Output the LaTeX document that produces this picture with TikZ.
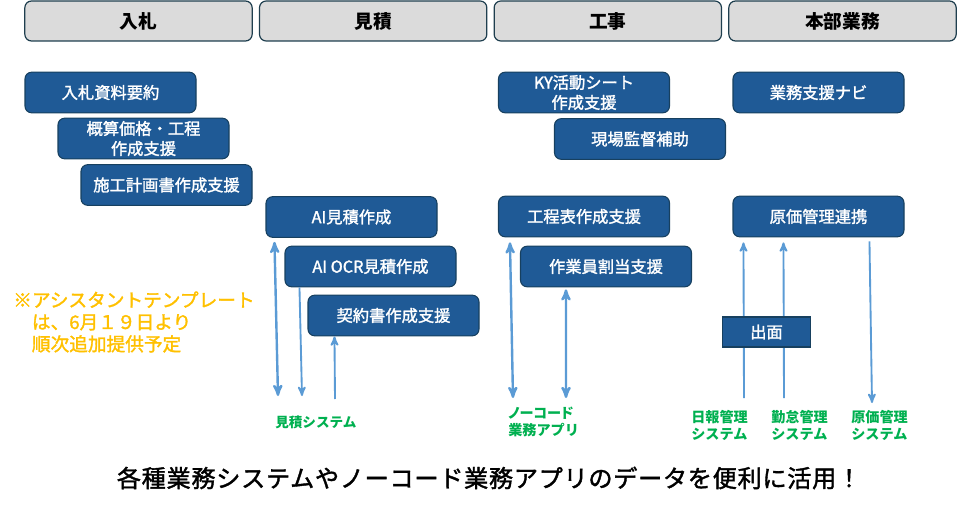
\documentclass[tikz,border=0pt]{standalone}
\usepackage{fontspec}
\setmainfont{Noto Sans CJK JP}
\newfontfamily\medfont[FakeBold=1.6]{Noto Sans CJK JP}
\usetikzlibrary{calc}
\usetikzlibrary{arrows}

\definecolor{headfill}{HTML}{DBDBDB}
\definecolor{headline}{HTML}{1F3F4F}
\definecolor{taskfill}{HTML}{1F5A96}
\definecolor{taskline}{HTML}{17405F}
\definecolor{linkblue}{HTML}{5B9BD5}
\definecolor{notegold}{HTML}{FFC000}
\definecolor{sysgreen}{HTML}{00B050}

\tikzset{
  head/.style={draw=headline, line width=.9pt, fill=headfill, rounded corners=5pt, inner sep=0pt,
    minimum width=170.5pt, minimum height=30pt, font=\fontsize{14}{16}\selectfont\bfseries},
  task/.style={draw=taskline, line width=.8pt, fill=taskfill, text=white, rounded corners=5pt, inner sep=0pt,
    minimum width=128.25pt, minimum height=30.5pt, align=center, font=\fontsize{12.2}{15}\selectfont\medfont},
  sys/.style={text=sysgreen, inner sep=0pt, align=left, anchor=west, font=\fontsize{10.6}{12.8}\selectfont\bfseries},
  link/.style={draw=linkblue, line width=1.8pt},
  thinlink/.style={draw=linkblue, line width=1.4pt}
}

\begin{document}
\begin{tikzpicture}[>=stealth',x=.75pt,y=-.75pt,node distance=176pt]
  \useasboundingbox (0,0) rectangle (957,510);

  % top row
  \node[head] (bid)               at (138.5,21) {入札};
  \node[head] (est)  [right of=bid] {見積};
  \node[head] (work) [right of=est] {工事};
  \node[head] (hq)   [right of=work] {本部業務};

  \node[task] (bidsum)  at (110.5,92.5)  {入札資料要約};
  \node[task] (bidcost) at (143.5,138.5) {概算価格・工程\\作成支援};
  \node[task] (bidplan) at (166.5,185)   {施工計画書作成支援};

  \node[task] (estai)   at (351.5,217)   {AI見積作成};
  \node[task] (estocr)  at (370.5,266.5) {AI OCR見積作成};
  \node[task] (estdoc)  at (393.5,315.5) {契約書作成支援};

  \node[task] (ky)      at (584,92.5)    {KY活動シート\\作成支援};
  \node[task] (site)    at (640,139)     {現場監督補助};
  \node[task] (sched)   at (584,216.5)   {工程表作成支援};
  \node[task] (crew)    at (606,266.5)   {作業員割当支援};

  \node[task] (navi)    at (818.5,92.5)  {業務支援ナビ};
  \node[task] (cost)    at (818.5,216.5) {原価管理連携};

  % free ends of the arrows
  \coordinate (e1) at (278,396);
  \coordinate (e2) at (302,396);
  \coordinate (e3) at (335,399);
  \coordinate (n1) at (513,398);
  \coordinate (n2) at (566,398);
  \coordinate (s1) at (744,398);
  \coordinate (s2) at (784,398);
  \coordinate (s3) at (872,403);

  \draw[link,<->]     ($(estai.south west)+(9,4)$) -- (e1);
  \draw[thinlink,->]  ($(estocr.south west)+(15,0)$) -- (e2);
  \draw[thinlink,->]  (e3) -- ($(estdoc.south west)+(27,0)$);
  \draw[link,<->]     ($(sched.south west)+(12,5)$) -- (n1);
  \draw[link,<->]     ($(crew.south west)+(46,2)$) -- (n2);
  \draw[thinlink,->]  (s1) -- ($(cost.south west)+(11,5)$);
  \draw[thinlink,->]  (s2) -- ($(cost.south west)+(51,5)$);
  \draw[thinlink,->]  ($(cost.south west)+(137,4)$) -- (s3);

  % drawn last so it lies over the two arrows
  \node[task, rounded corners=0pt, minimum width=66.5pt, minimum height=22.5pt] (desk) at (766.5,332) {出面};

  \node[text=notegold, inner sep=0pt, align=left, anchor=west, font=\fontsize{14}{16.5}\selectfont\medfont] (note) at (13,322)
    {※アシスタントテンプレート\\　は、6月１９日より\\　順次追加提供予定};

  \node[sys, font=\fontsize{10.2}{12.8}\selectfont\bfseries] (estsys) at (275,422) {見積システム};
  \node[sys] (nocode)  at (508,421.5) {\addfontfeature{RawFeature=+palt}ノーコード\\業務アプリ};
  \node[sys] (daily)   at (691,425)   {日報管理\\システム};
  \node[sys] (attend)  at (771,425)   {勤怠管理\\システム};
  \node[sys] (costsys) at (851,425)   {原価管理\\システム};

  \node[inner sep=0pt, font=\fontsize{18.1}{22}\selectfont\medfont\addfontfeature{LetterSpace=3}] (slogan) at (489,478)
    {各種業務システムやノーコード業務アプリのデータを便利に活用！};
\end{tikzpicture}
\end{document}
